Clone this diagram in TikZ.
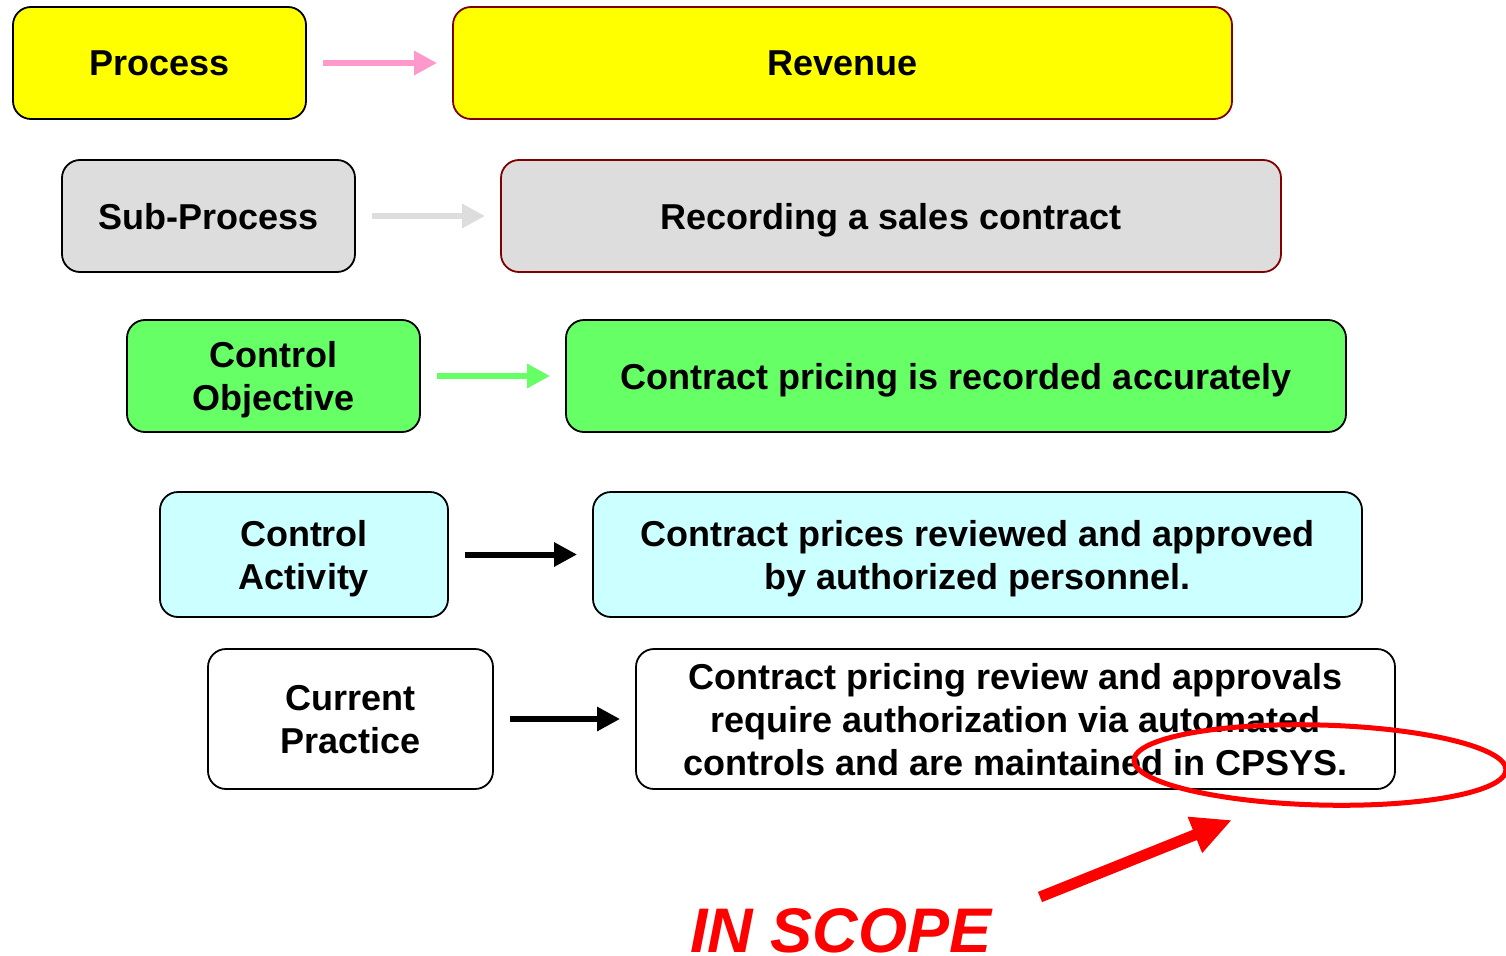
\documentclass[tikz,border=0pt]{standalone}
\usepackage{fontspec}
\setmainfont{Liberation Sans}
\usetikzlibrary{arrows.meta,shapes.geometric}
\definecolor{boxyellow}{HTML}{FFFF00}
\definecolor{boxgray}{HTML}{DDDDDD}
\definecolor{boxgreen}{HTML}{66FF66}
\definecolor{boxcyan}{HTML}{CCFFFF}
\definecolor{arrowpink}{HTML}{FF99CC}
\definecolor{maroon}{HTML}{800000}
\definecolor{scopered}{HTML}{FF0000}
\tikzset{
  stagebox/.style={draw=black, line width=1.8pt, rounded corners=18pt,
    align=center, inner sep=0pt, text depth=0pt,
    font=\fontsize{36}{43}\selectfont\bfseries},
  linkarrow/.style={line width=6.5pt, shorten <=16pt, shorten >=15pt,
    -{Triangle[length=23pt,width=23pt]}},
}
\begin{document}
\begin{tikzpicture}[x=1pt, y=-1pt]
\useasboundingbox (0,0) rectangle (1506,955);

% labels column
\node[stagebox, fill=boxyellow, minimum width=293pt, minimum height=112pt] (proc) at (159.5,63) {Process};
\node[stagebox, fill=boxgray, minimum width=293pt, minimum height=112pt] (sub) at (208.5,216) {Sub-Process};
\node[stagebox, fill=boxgreen, minimum width=293pt, minimum height=112pt] (obj) at (273.5,376) {Control\\Objective};
\node[stagebox, fill=boxcyan, minimum width=288pt, minimum height=125pt] (act) at (304,554.5) {Control\\Activity};
\node[stagebox, fill=white, minimum width=285pt, minimum height=140pt] (prac) at (350.5,719) {Current\\Practice};

% descriptions column
\node[stagebox, draw=maroon, fill=boxyellow, minimum width=779pt, minimum height=112pt] (rev) at (842.5,63) {Revenue};
\node[stagebox, draw=maroon, fill=boxgray, minimum width=780pt, minimum height=112pt] (rec) at (891,216) {Recording a sales contract};
\node[stagebox, fill=boxgreen, minimum width=780pt, minimum height=112pt] (acc) at (956,376) {Contract pricing is recorded accurately};
\node[stagebox, fill=boxcyan, minimum width=769pt, minimum height=125pt] (rvw) at (977.5,554.5) {Contract prices reviewed and approved\\by authorized personnel.};
\node[stagebox, fill=white, minimum width=759pt, minimum height=140pt] (cps) at (1015.5,719) {Contract pricing review and approvals\\require authorization via automated\\controls and are maintained in CPSYS.};

% connectors
\draw[linkarrow, arrowpink] (proc.east) -- (rev.west);
\draw[linkarrow, boxgray] (sub.east) -- (rec.west);
\draw[linkarrow, boxgreen] (obj.east) -- (acc.west);
\draw[linkarrow, black, line width=6pt] (act.east) -- (rvw.west);
\draw[linkarrow, black, line width=6pt] (prac.east) -- (cps.west);

% scope highlight
\node[draw=scopered, line width=5pt, ellipse, inner sep=0pt,
  minimum width=372pt, minimum height=80pt, rotate=-1.5] (ring) at (1320,765) {};
\node[text=scopered, anchor=base west, inner sep=0pt,
  font=\fontsize{63}{63}\selectfont\bfseries\itshape] (scope) at (690,952) {IN SCOPE};
\coordinate (tail) at (1040,897);
\coordinate (tip) at (1232,820);
\draw[scopered, line width=11pt, -{Triangle[length=40pt,width=36pt]}] (tail) -- (tip);
\end{tikzpicture}
\end{document}
